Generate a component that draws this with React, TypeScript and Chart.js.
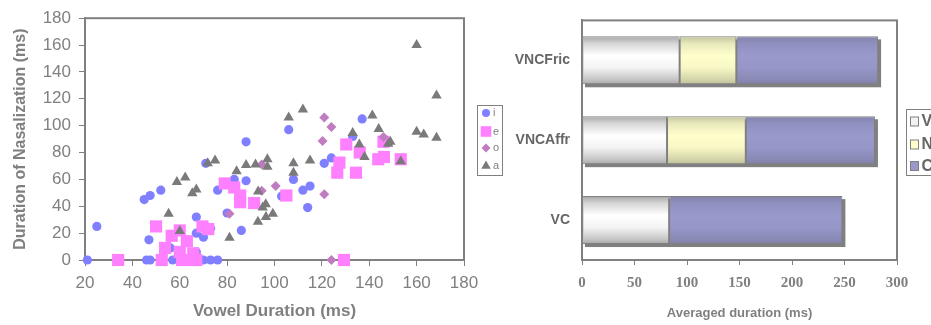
import React, { useEffect, useRef } from 'react';
import { Chart, registerables } from 'chart.js';
import { drawPoint } from 'chart.js/helpers';

Chart.register(...registerables);

// ---------- Scatter data (Vowel duration, Duration of nasalization) ----------
const scatterSeriesNames = ['i', 'e', 'o', 'a'];

const iPoints: [number, number][] = [
  [21, 0], [25, 25], [45, 45], [47.5, 48], [52, 52], [47, 15], [46, 0], [47.5, 0],
  [57, 0], [60, 0], [66, 0], [70, 0], [73, 0], [76, 0], [56, 9], [67, 6],
  [67, 32], [67, 20], [70, 17], [73, 23.5], [71, 72], [76, 52], [80, 35], [83, 60],
  [88, 88], [88, 59], [86, 22], [106, 97], [137, 105], [124, 76], [121, 72], [133, 92],
  [108, 60], [112, 52], [115, 55], [114, 39], [103, 47.5],
];

const ePoints: [number, number][] = [
  [34, 0], [50, 25], [52.4, 0], [53.8, 9], [56.6, 18], [60, 22], [60, 6], [61, 0],
  [63, 14], [63.6, 0], [65.7, 5], [67, 0], [69.6, 25], [72, 23], [79, 57], [83, 54],
  [85.5, 48], [85.5, 43], [91.4, 42.4], [105, 48], [126.5, 65], [127.4, 72.5], [129.3, 0],
  [130.3, 86], [134.4, 65], [136, 80], [143.8, 75], [146.2, 76.7], [146, 88], [153.3, 75],
];

const oPoints: [number, number][] = [
  [81, 34.5], [94.6, 71], [94.6, 51.6], [100.5, 55], [121, 106], [124, 99], [120.3, 88.5],
  [121, 49], [124, 0], [146, 91.5],
];

const aPoints: [number, number][] = [
  [55.3, 34.5], [60, 21.6], [58.8, 58], [62.3, 61.5], [65.3, 49.6], [67, 52.5], [71.8, 72],
  [74.9, 74], [81, 16.5], [84, 66], [88, 70.8], [92, 71], [93.1, 51], [93, 28.5],
  [96.3, 41.5], [95, 39], [96.4, 32], [99.3, 34.5], [97, 75], [97, 69.5], [106, 106],
  [108, 72], [108, 65], [112, 112], [115, 74], [133, 94.6], [135.8, 86], [138, 76.7],
  [141.3, 107.5], [144, 97.5], [148, 86.5], [148.9, 88], [153.3, 73.5], [160, 160],
  [160, 95.5], [163, 93.5], [168.4, 122.5], [168.4, 91],
];

// ---------- Bar data (Averaged duration) ----------
const barCategories = ['VNCFric', 'VNCAffr', 'VC'];
const barSeriesNames = ['V', 'N', 'C'];
const vValues = [93, 81, 83];
const nValues = [54, 75, 0];
const cValues = [135, 123, 165];

const SANS = '"Liberation Sans", Arial, sans-serif';
const SERIF = '"Liberation Serif", "Times New Roman", serif';
const GRAY = '#808080';

const scatterStyles = [
  { color: '#7f7fff', style: 'circle', radius: 4.6, legendRadius: 4 },
  { color: '#ff80ff', style: 'rect', radius: 8.6, legendRadius: 7.5 },
  { color: '#c07cc0', style: 'rectRot', radius: 5, legendRadius: 4.5 },
  { color: '#7a7a7a', style: 'triangle', radius: 6, legendRadius: 5.5 },
];

const frameLeftPlugin = {
  id: 'frameLeft',
  beforeDatasetsDraw(chart: any) {
    const { ctx, chartArea: a } = chart;
    ctx.save();
    ctx.strokeStyle = GRAY;
    ctx.lineWidth = 2;
    ctx.strokeRect(a.left, a.top, a.right - a.left, a.bottom - a.top);
    ctx.restore();
  },
  afterDraw(chart: any) {
    const ctx = chart.ctx;
    ctx.save();
    ctx.strokeStyle = GRAY;
    ctx.lineWidth = 1;
    ctx.strokeRect(477.5, 105.5, 25, 70);
    const ys = [113, 131.5, 148, 166];
    ctx.font = `11px ${SANS}`;
    ctx.textBaseline = 'middle';
    scatterSeriesNames.forEach((name, k) => {
      const s = scatterStyles[k];
      ctx.fillStyle = s.color;
      drawPoint(ctx, { pointStyle: s.style as any, radius: s.legendRadius, rotation: 0, borderWidth: 0 }, 486, ys[k]);
      ctx.fillStyle = GRAY;
      ctx.fillText(name, 493, ys[k]);
    });
    ctx.restore();
  },
};

const barBandHalf = (chart: any) => {
  const y = chart.scales.y;
  return ((y.bottom - y.top) / barCategories.length) * 0.6 / 2;
};

const makeGradient = (stops: [number, string][]) => (c: any) => {
  const chart = c.chart;
  const y = chart.scales && chart.scales.y;
  if (!y || c.type !== 'data' || !chart.chartArea) return stops[2][1];
  const center = y.getPixelForValue(c.dataIndex);
  const h = barBandHalf(chart);
  const g = chart.ctx.createLinearGradient(0, center - h, 0, center + h);
  stops.forEach(([p, col]) => g.addColorStop(p, col));
  return g;
};

const vStops: [number, string][] = [
  [0, '#a6a6a6'], [0.15, '#d6d6d6'], [0.4, '#ffffff'], [0.65, '#f4f4f4'], [0.9, '#c6c6c6'], [1, '#a8a8a8'],
];
const nStops: [number, string][] = [
  [0, '#c4c49e'], [0.15, '#e8e8bc'], [0.4, '#ffffcc'], [0.65, '#f8f8c6'], [0.9, '#d4d4aa'], [1, '#c0c09a'],
];
const cStops: [number, string][] = [
  [0, '#8282aa'], [0.15, '#9090bf'], [0.4, '#9999cc'], [0.65, '#9696c8'], [0.9, '#8a8ab6'], [1, '#8080a8'],
];

const barPlugin = {
  id: 'barDecor',
  beforeDatasetsDraw(chart: any) {
    const { ctx, chartArea: a, scales } = chart;
    const h = barBandHalf(chart);
    ctx.save();
    ctx.fillStyle = GRAY;
    barCategories.forEach((_, k) => {
      const total = vValues[k] + nValues[k] + cValues[k];
      const x0 = scales.x.getPixelForValue(0);
      const x1 = scales.x.getPixelForValue(total);
      const c = scales.y.getPixelForValue(k);
      ctx.fillRect(x0 + 3, c - h + 3, x1 - x0, 2 * h);
    });
    ctx.strokeStyle = GRAY;
    ctx.lineWidth = 2;
    ctx.strokeRect(a.left, a.top, a.right - a.left, a.bottom - a.top);
    ctx.restore();
  },
  afterDraw(chart: any) {
    const ctx = chart.ctx;
    ctx.save();
    ctx.strokeStyle = GRAY;
    ctx.lineWidth = 1;
    ctx.strokeRect(906.5, 109.5, 40, 66);
    const ys = [121.5, 144.5, 166];
    const fills = ['#f2f2f2', '#ffffcc', '#9999cc'];
    ctx.font = `bold 16px ${SANS}`;
    ctx.textBaseline = 'middle';
    barSeriesNames.forEach((name, k) => {
      ctx.fillStyle = fills[k];
      ctx.fillRect(910.5, ys[k] - 4.5, 8, 9);
      ctx.strokeStyle = GRAY;
      ctx.strokeRect(910.5, ys[k] - 4.5, 8, 9);
      ctx.fillStyle = '#666666';
      ctx.fillText(name, 921.5, ys[k] + 0.5);
    });
    ctx.restore();
  },
};

export default function App() {
  const leftRef = useRef<HTMLCanvasElement>(null);
  const rightRef = useRef<HTMLCanvasElement>(null);

  useEffect(() => {
    const series = [iPoints, ePoints, oPoints, aPoints];
    const scatter = new Chart(leftRef.current!, {
      type: 'scatter',
      data: {
        datasets: series.map((pts, k) => ({
          label: scatterSeriesNames[k],
          data: pts.map(([x, y]) => ({ x, y })),
          pointStyle: scatterStyles[k].style as any,
          pointRadius: scatterStyles[k].radius,
          backgroundColor: scatterStyles[k].color,
          borderWidth: 0,
          clip: false as any,
          order: 3 - k,
        })),
      },
      options: {
        responsive: false,
        animation: false,
        events: [],
        layout: { padding: { left: 0, top: 16, right: 931 - 464, bottom: 0 } },
        plugins: { legend: { display: false }, tooltip: { enabled: false } },
        scales: {
          x: {
            type: 'linear',
            min: 20,
            max: 180,
            ticks: { stepSize: 20, color: GRAY, font: { family: SANS, size: 17 }, padding: 7 },
            grid: { drawOnChartArea: false, drawTicks: true, tickLength: 6, color: GRAY },
            border: { display: true, color: GRAY, width: 2 },
            title: {
              display: true,
              text: 'Vowel Duration (ms)',
              color: GRAY,
              font: { family: SANS, size: 17, weight: 'bold' },
              padding: { top: 3, bottom: 3 },
            },
            afterFit: (s: any) => { s.height = 65; },
          },
          y: {
            type: 'linear',
            min: 0,
            max: 180,
            ticks: { stepSize: 20, color: GRAY, font: { family: SANS, size: 17 }, padding: 8 },
            grid: { drawOnChartArea: false, drawTicks: true, tickLength: 6, color: GRAY },
            border: { display: true, color: GRAY, width: 2 },
            title: {
              display: true,
              text: 'Duration of Nasalization (ms)',
              color: GRAY,
              font: { family: SANS, size: 16, weight: 'bold' },
              padding: { top: 11, bottom: 11 },
            },
            afterFit: (s: any) => { s.width = 85; },
          },
        },
      },
      plugins: [frameLeftPlugin],
    });

    const bars = new Chart(rightRef.current!, {
      type: 'bar',
      data: {
        labels: barCategories,
        datasets: [
          { label: barSeriesNames[0], data: vValues, backgroundColor: makeGradient(vStops) },
          { label: barSeriesNames[1], data: nValues, backgroundColor: makeGradient(nStops) },
          { label: barSeriesNames[2], data: cValues, backgroundColor: makeGradient(cStops) },
        ].map((d) => ({
          ...d,
          borderColor: GRAY,
          borderWidth: 1,
          borderSkipped: false as any,
          categoryPercentage: 0.6,
          barPercentage: 1,
        })),
      },
      options: {
        indexAxis: 'y',
        responsive: false,
        animation: false,
        events: [],
        layout: { padding: { left: 470, top: 16, right: 34, bottom: 0 } },
        plugins: { legend: { display: false }, tooltip: { enabled: false } },
        scales: {
          x: {
            stacked: true,
            min: 0,
            max: 300,
            ticks: { stepSize: 50, color: GRAY, font: { family: SERIF, size: 15, weight: 'bold' }, padding: 9 },
            grid: { drawOnChartArea: false, drawTicks: true, tickLength: 5, color: GRAY },
            border: { display: true, color: GRAY, width: 2 },
            title: {
              display: true,
              text: 'Averaged duration (ms)',
              color: GRAY,
              font: { family: SANS, size: 13, weight: 'bold' },
              padding: { top: 4, bottom: 4 },
            },
            afterFit: (s: any) => { s.height = 65; },
          },
          y: {
            stacked: true,
            ticks: { color: '#666666', font: { family: SANS, size: 14, weight: 'bold' }, padding: 12 },
            grid: { display: false, drawTicks: false },
            border: { display: true, color: GRAY, width: 2 },
            afterFit: (s: any) => { s.width = 112; },
          },
        },
      },
      plugins: [barPlugin],
    });

    return () => {
      scatter.destroy();
      bars.destroy();
    };
  }, []);

  const canvasStyle: React.CSSProperties = { position: 'absolute', left: 0, top: 0, width: 931, height: 325 };
  return (
    <div style={{ position: 'absolute', left: 0, top: 0, width: 931, height: 325, background: '#ffffff', overflow: 'hidden' }}>
      <canvas ref={leftRef} width={931} height={325} style={canvasStyle} />
      <canvas ref={rightRef} width={931} height={325} style={canvasStyle} />
    </div>
  );
}
